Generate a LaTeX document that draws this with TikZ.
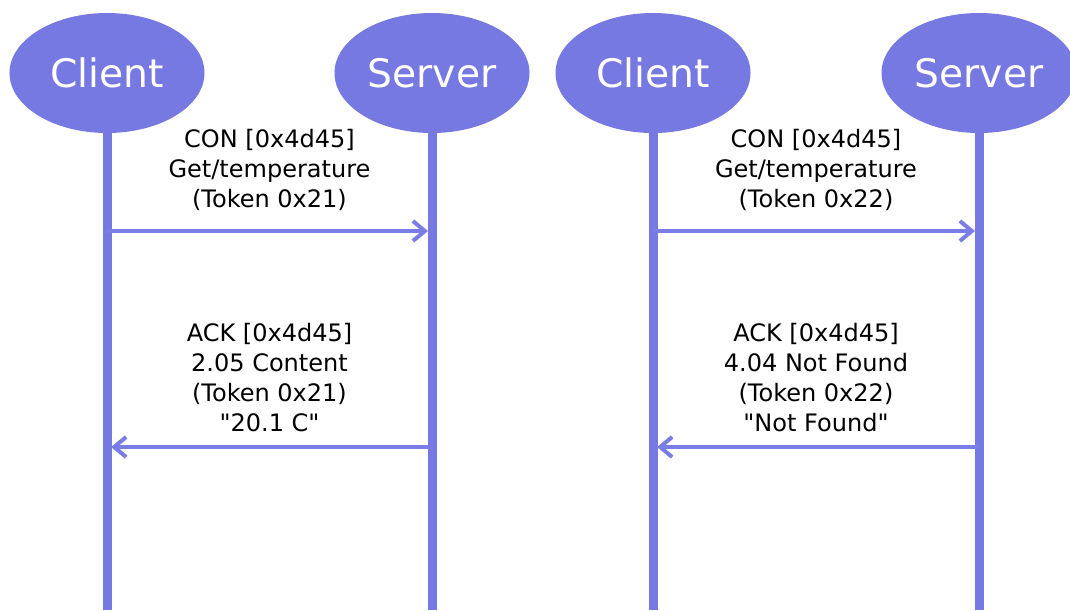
\documentclass[tikz,border=0pt]{standalone}
\usepackage{fontspec}
\setmainfont{DejaVu Sans}
\usetikzlibrary{positioning,arrows.meta,calc,shapes.geometric}
\definecolor{lane}{HTML}{7679E1}
\definecolor{msgblue}{HTML}{7B7DE6}
\tikzset{
  party/.style={ellipse,fill=lane,text=white,inner sep=0pt,
    minimum width=5.85cm,minimum height=3.6cm,font=\fontsize{33.5}{40}\selectfont},
  lifeline/.style={draw=lane,line width=0.27cm},
  msgline/.style={draw=msgblue,line width=0.12cm,shorten >=0.12cm,
    -{Straight Barb[length=0.36cm,width=0.6cm]}},
  msgtext/.style={align=center,inner sep=0pt,font=\fontsize{20.5}{25.6}\selectfont}
}

\begin{document}
\begin{tikzpicture}[x=0.03cm,y=-0.03cm]
\useasboundingbox (0,0) rectangle (1070,610);
\coordinate (req) at (0,231);
\coordinate (ack) at (0,447);
% the two exchanges
\node[party] (c1) at (107,73) {Client};
\node[party] (s1) at (432,73) {Server};
\node[party] (c2) at (653,73) {Client};
\node[party] (s2) at (979,73) {Server};
\coordinate (c1end) at (107,610);
\coordinate (s1end) at (432,610);
\coordinate (c2end) at (653,610);
\coordinate (s2end) at (979,610);
\draw[lifeline] (c1.south) -- (c1end);
\draw[lifeline] (s1.south) -- (s1end);
\draw[lifeline] (c2.south) -- (c2end);
\draw[lifeline] (s2.south) -- (s2end);
% found
\draw[msgline] (c1 |- req) -- (s1 |- req);
\draw[msgline] (s1 |- ack) -- (c1 |- ack);
\node[msgtext] (con1) at ($(c1 |- req)!.5!(s1 |- req)+(0,-61)$) {CON [0x4d45]\\Get/temperature\\(Token 0x21)};
\node[msgtext] (ack1) at ($(c1 |- ack)!.5!(s1 |- ack)+(0,-69)$) {ACK [0x4d45]\\2.05 Content\\(Token 0x21)\\\textquotedbl 20.1 C\textquotedbl};
% not found
\draw[msgline] (c2 |- req) -- (s2 |- req);
\draw[msgline] (s2 |- ack) -- (c2 |- ack);
\node[msgtext] (con2) at ($(c2 |- req)!.5!(s2 |- req)+(0,-61)$) {CON [0x4d45]\\Get/temperature\\(Token 0x22)};
\node[msgtext] (ack2) at ($(c2 |- ack)!.5!(s2 |- ack)+(0,-69)$) {ACK [0x4d45]\\4.04 Not Found\\(Token 0x22)\\\textquotedbl Not Found\textquotedbl};
\end{tikzpicture}
\end{document}
